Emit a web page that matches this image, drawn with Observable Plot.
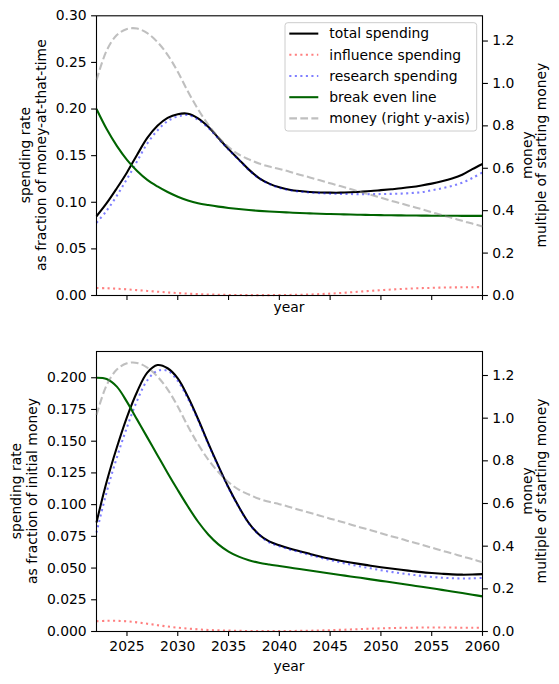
<!DOCTYPE html>
<html><head><meta charset="utf-8">
<script src="https://cdn.jsdelivr.net/npm/d3@7"></script>
<script src="https://cdn.jsdelivr.net/npm/@observablehq/plot@0.6"></script>
<style>
body{margin:0;background:#fff;}
#chart{position:relative;width:559px;height:684px;font-family:"DejaVu Sans",sans-serif;}
#chart svg{position:absolute;left:0;}
</style></head><body><div id="chart"></div>
<script>
const years = [2022,2023,2024,2025,2026,2027,2028,2029,2030,2031,2032,2033,2034,2035,2036,2037,2038,2039,2040,2041,2042,2043,2044,2045,2046,2047,2048,2049,2050,2051,2052,2053,2054,2055,2056,2057,2058,2059,2060];

// top panel: fraction of money-at-that-time
const totalTop = [0.085,0.099,0.115,0.132,0.151,0.169,0.182,0.1905,0.1945,0.195, 0.190,0.181,0.169,0.157,0.146,0.135,0.126,0.120,0.116,0.1135, 0.112,0.111,0.1105,0.1103,0.1103,0.1107,0.1113,0.112,0.113,0.114, 0.115,0.1163,0.118,0.120,0.1225,0.1255,0.1295,0.1355,0.141];
const influenceTop = [0.0080,0.0078,0.0073,0.0066,0.0058,0.0049,0.0041,0.0033,0.0026,0.0020, 0.0015,0.0011,0.0008,0.0006,0.0005,0.0004,0.0004,0.0004,0.0005,0.0006, 0.0008,0.0011,0.0015,0.0020,0.0027,0.0034,0.0042,0.0050,0.0057,0.0064, 0.0070,0.0075,0.0079,0.0082,0.0085,0.0087,0.0088,0.0089,0.0090];
const researchTop = [0.078,0.091,0.107,0.125,0.144,0.163,0.177,0.187,0.192,0.1935, 0.1885,0.1799,0.1682,0.1564,0.1455,0.1346,0.1256,0.1196,0.1155,0.113, 0.1115,0.1105,0.1098,0.1093,0.109,0.1088,0.1087,0.1087,0.1088,0.109, 0.1093,0.1099,0.1108,0.1128,0.115,0.1175,0.121,0.126,0.132];
const breakEvenTop = [0.200,0.1785,0.1605,0.1455,0.1335,0.124,0.117,0.111,0.106,0.102, 0.099,0.097,0.0953,0.0939,0.0927,0.0917,0.0908,0.0901,0.0895,0.0890, 0.0885,0.0881,0.0877,0.0874,0.0871,0.0868,0.0866,0.0864,0.0862,0.0860, 0.0859,0.0858,0.0857,0.0856,0.0855,0.0855,0.0854,0.0854,0.0854];

// bottom panel: fraction of initial money
const totalBottom = [0.086,0.118,0.145,0.169,0.189,0.204,0.2100,0.2075,0.1995,0.185, 0.1675,0.1485,0.1305,0.1135,0.0985,0.0855,0.0765,0.0710,0.0680,0.0655, 0.0633,0.0612,0.0592,0.0574,0.0558,0.0544,0.0531,0.0519,0.0507,0.0496, 0.0486,0.0477,0.0468,0.0461,0.0455,0.0450,0.0448,0.0449,0.0452];
const influenceBottom = [0.0081,0.0084,0.0084,0.0080,0.0072,0.0061,0.0050,0.0039,0.0030,0.0023, 0.0017,0.0012,0.0009,0.0007,0.0005,0.0004,0.0004,0.0004,0.0004,0.0004, 0.0005,0.0006,0.0008,0.0010,0.0013,0.0016,0.0019,0.0022,0.0025,0.0027, 0.0029,0.0030,0.0031,0.0031,0.0031,0.0031,0.0030,0.0030,0.0030];
const researchBottom = [0.078,0.110,0.137,0.161,0.182,0.198,0.2055,0.2055,0.1975,0.1835, 0.1665,0.1478,0.1298,0.113,0.098,0.0852,0.0762,0.0702,0.0672,0.0647, 0.0625,0.0603,0.0582,0.0562,0.0544,0.0528,0.0512,0.0498,0.0483,0.0470, 0.0458,0.0448,0.0438,0.0430,0.0424,0.0420,0.0418,0.0419,0.0422];
const breakEvenBottom = [0.200,0.199,0.193,0.181,0.167,0.153,0.139,0.125,0.1115,0.0985, 0.0865,0.0765,0.0687,0.0630,0.0590,0.0562,0.0542,0.0528,0.0516,0.0504, 0.0493,0.0481,0.0469,0.0457,0.0446,0.0434,0.0423,0.0411,0.0399,0.0388, 0.0376,0.0364,0.0353,0.0341,0.0328,0.0316,0.0303,0.0290,0.0277];

// money, multiple of starting money (right axis)
const money = [1.015,1.155,1.228,1.257,1.259,1.237,1.195,1.135,1.055,0.962, 0.878,0.806,0.747,0.700,0.665,0.642,0.622,0.608,0.597,0.584, 0.570,0.557,0.543,0.529,0.516,0.502,0.488,0.475,0.461,0.447, 0.434,0.420,0.407,0.393,0.379,0.366,0.352,0.339,0.325];

const seriesNames = ["total spending","influence spending","research spending","break even line","money (right y-axis)"];
const xTicks = [2025,2030,2035,2040,2045,2050,2055,2060];
const leftTicksTop = [0,0.05,0.10,0.15,0.20,0.25,0.30];
const leftTicksBottom = [0,0.025,0.05,0.075,0.10,0.125,0.15,0.175,0.20];
const rightTicks = [0,0.2,0.4,0.6,0.8,1.0,1.2];

const W = 559, FONT = "DejaVu Sans", FS = 13.9, LW = 2.08, TICK = 4.9;
const DOT = "2.08,3.44", DASH = "7.7,3.33";
const styles = [
  {stroke:"black", opacity:1, dash:null},
  {stroke:"red", opacity:0.5, dash:DOT},
  {stroke:"blue", opacity:0.5, dash:DOT},
  {stroke:"#006400", opacity:1, dash:null},
  {stroke:"gray", opacity:0.5, dash:DASH}
];
const rows = arr => years.map((year, i) => ({year, value: arr[i]}));
const lineFor = (arr, s) => Plot.lineY(rows(arr), {x:"year", y:"value", stroke:s.stroke, strokeOpacity:s.opacity,
  strokeWidth:LW, strokeDasharray:s.dash, strokeLinecap:"butt", strokeLinejoin:"round", curve:"catmull-rom"});

const chart = document.getElementById("chart");

function addVLabel(svg, x, y, text) {
  svg.append("text").attr("transform", `translate(${x},${y}) rotate(-90)`)
    .attr("text-anchor","middle").attr("dy","0.35em")
    .attr("font-family", FONT).attr("font-size", FS).attr("fill","black").text(text);
}

function panel(cfg) {
  const common = {
    width: W, height: cfg.height, marginLeft: 96, marginRight: 77, marginTop: cfg.mt, marginBottom: cfg.mb,
  };
  const st = bg => ({fontFamily: FONT, fontSize: FS + "px", color: "black", background: bg, overflow: "visible"});
  const base = Plot.plot({
    ...common, style: st("white"),
    x: {domain: [2022, 2060], axis: null},
    y: {domain: cfg.yDomain, axis: null},
    marks: [
      ...cfg.series.map((arr, i) => lineFor(arr, styles[i])),
      Plot.frame({stroke: "black", strokeWidth: 1.1}),
      Plot.axisX({ticks: xTicks, tickSize: TICK, tickPadding: TICK, strokeWidth: 1.1,
        tickFormat: cfg.xLabels ? (d => String(d)) : (() => ""), label: null}),
      Plot.axisY({ticks: cfg.yTicks, tickSize: TICK, tickPadding: TICK, strokeWidth: 1.1,
        tickFormat: cfg.yFmt, label: null})
    ]
  });
  const over = Plot.plot({
    ...common, style: st("none"),
    x: {domain: [2022, 2060], axis: null},
    y: {domain: cfg.moneyDomain, axis: null},
    marks: [
      lineFor(money, styles[4]),
      Plot.axisY({anchor: "right", ticks: rightTicks, tickSize: TICK, tickPadding: TICK, strokeWidth: 1.1,
        tickFormat: d => d.toFixed(1), label: null})
    ]
  });
  base.style.top = cfg.top + "px";
  over.style.top = cfg.top + "px";
  chart.appendChild(base);
  chart.appendChild(over);
  const s = d3.select(over);
  const cy = cfg.mt + (cfg.height - cfg.mt - cfg.mb) / 2;
  addVLabel(s, cfg.l1x, cy, cfg.leftLabel[0]);
  addVLabel(s, cfg.l2x, cy, cfg.leftLabel[1]);
  addVLabel(s, 527.5, cy, "money");
  addVLabel(s, 541.5, cy, "multiple of starting money");
  s.append("text").attr("x", 289).attr("y", cfg.yearY).attr("text-anchor","middle")
    .attr("font-family", FONT).attr("font-size", FS).attr("fill","black").text("year");
  return s;
}

const topPanel = panel({
  top: 0, height: 340, mt: 15.3, mb: 45,
  series: [totalTop, influenceTop, researchTop, breakEvenTop],
  yDomain: [0, 0.30], yTicks: leftTicksTop, yFmt: d => d.toFixed(2),
  moneyDomain: [0, 1.319], xLabels: false,
  leftLabel: ["spending rate", "as fraction of money-at-that-time"], l1x: 25.5, l2x: 41,
  yearY: 311.5
});
panel({
  top: 340, height: 344, mt: 11, mb: 53,
  series: [totalBottom, influenceBottom, researchBottom, breakEvenBottom],
  yDomain: [0, 0.2207], yTicks: leftTicksBottom, yFmt: d => d.toFixed(3),
  moneyDomain: [0, 1.3125], xLabels: true,
  leftLabel: ["spending rate", "as fraction of initial money"], l1x: 16, l2x: 32.5,
  yearY: 330.5
});

// legend in top panel
const lg = topPanel.append("g");
lg.append("rect").attr("x", 285).attr("y", 22.7).attr("width", 191.7).attr("height", 108.3)
  .attr("rx", 2.8).attr("fill", "white").attr("fill-opacity", 0.8).attr("stroke", "#cccccc").attr("stroke-width", 1);
seriesNames.forEach((name, i) => {
  const y = 33.6 + i * 21.2, s = styles[i];
  lg.append("line").attr("x1", 289.3).attr("x2", 318.3).attr("y1", y).attr("y2", y)
    .attr("stroke", s.stroke).attr("stroke-opacity", s.opacity).attr("stroke-width", LW)
    .attr("stroke-dasharray", s.dash).attr("stroke-linecap", "butt");
  lg.append("text").attr("x", 329.3).attr("y", y).attr("dy", "0.35em").attr("text-anchor", "start")
    .attr("font-family", FONT).attr("font-size", FS).attr("fill", "black").text(name);
});
</script></body></html>
